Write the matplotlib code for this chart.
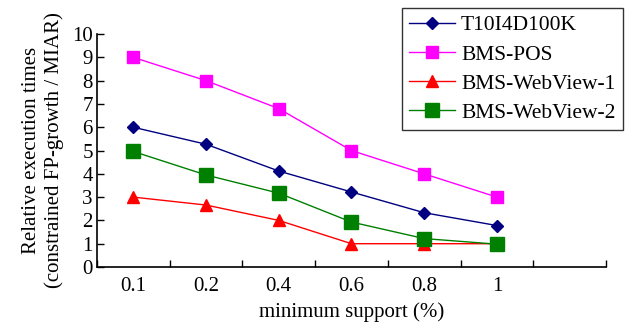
import matplotlib.pyplot as plt
import numpy as np

plt.rcParams['font.family'] = ['Liberation Serif', 'DejaVu Serif']

supports = ['0.1', '0.2', '0.4', '0.6', '0.8', '1']
t10i4d100k = [6.0, 5.27, 4.12, 3.22, 2.33, 1.78]
bms_pos = [9.0, 8.0, 6.8, 5.0, 4.0, 3.0]
bms_webview1 = [3.0, 2.66, 2.0, 1.0, 1.0, 1.0]
bms_webview2 = [4.96, 3.95, 3.17, 1.93, 1.22, 0.98]

x = np.arange(len(supports))

fig = plt.figure(figsize=(6.26, 3.28), dpi=100)
ax = fig.add_axes([0.155, 0.186, 0.813, 0.71])

ax.plot(x, t10i4d100k, color='#000080', marker='D', markersize=6.5, lw=1, label='T10I4D100K')
ax.plot(x, bms_pos, color='#ff00ff', marker='s', markersize=9, lw=1, label='BMS-POS')
ax.plot(x, bms_webview1, color='#ff0000', marker='^', markersize=9, lw=1, label='BMS-WebView-1')
ax.plot(x, bms_webview2, color='#008000', marker='s', markersize=10, lw=1, label='BMS-WebView-2')

ax.set_xlim(-0.5, 6.5)
ax.set_ylim(0, 10)
ax.set_xticks(x)
ax.set_xticklabels(supports)
ax.set_xticks(np.arange(-0.5, 7, 1), minor=True)
ax.set_yticks(range(0, 11))
ax.tick_params(axis='x', which='major', length=0, labelsize=15, pad=7)
ax.tick_params(axis='x', which='minor', direction='in', length=5, width=1)
ax.tick_params(axis='y', direction='in', length=5, width=1, labelsize=15, pad=3)

for s in ['top', 'right']:
    ax.spines[s].set_visible(False)
for s in ['left', 'bottom']:
    ax.spines[s].set_linewidth(1.2)

ax.set_xlabel('minimum support (%)', fontsize=15, labelpad=5)
ax.set_ylabel('Relative execution times\n(constrained FP-growth / MIAR)', fontsize=15, labelpad=6)

leg = ax.legend(loc='upper right', bbox_to_anchor=(0.995, 0.976), bbox_transform=fig.transFigure,
                fontsize=15.5, frameon=True, fancybox=False, edgecolor='black',
                handlelength=2.1, borderpad=0.35, labelspacing=0.42, handletextpad=0.3,
                borderaxespad=0)
leg.get_frame().set_linewidth(1)

fig.savefig('out.png', dpi=100)
